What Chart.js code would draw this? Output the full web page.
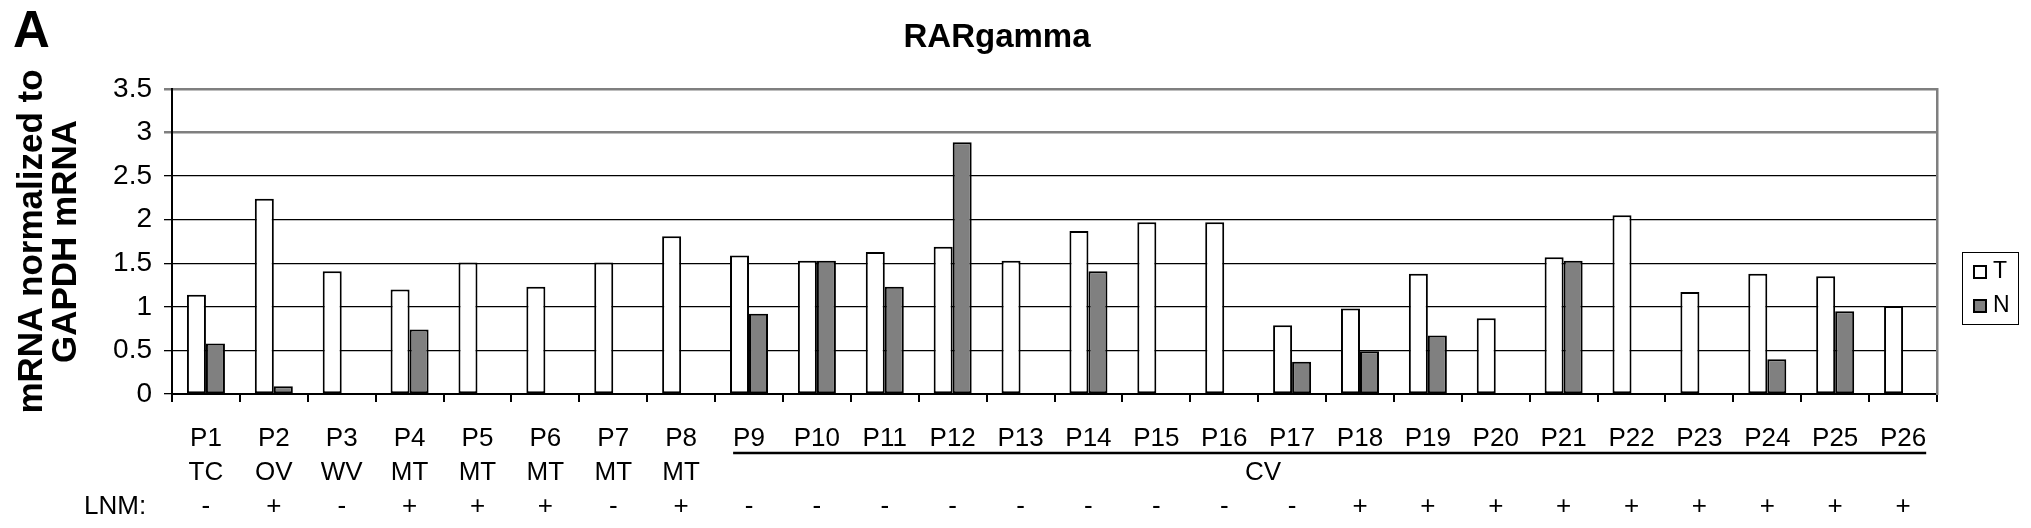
<!DOCTYPE html>
<html>
<head>
<meta charset="utf-8">
<script src="https://cdn.jsdelivr.net/npm/chart.js@4/dist/chart.umd.min.js"></script>
<style>
  body { margin: 0; background: #fff; }
  canvas { display: block; }
</style>
</head>
<body>
<canvas id="chart" width="2031" height="528"></canvas>
<script>
const panelLetter = 'A'
const chartTitle = 'RARgamma'
const yTitle = ['mRNA normalized to', 'GAPDH mRNA']

const patients = ['P1', 'P2', 'P3', 'P4', 'P5', 'P6', 'P7', 'P8', 'P9', 'P10', 'P11', 'P12', 'P13',
  'P14', 'P15', 'P16', 'P17', 'P18', 'P19', 'P20', 'P21', 'P22', 'P23', 'P24', 'P25', 'P26']
// tumour type, P9..P26 are all CV (drawn once under a line)
const tissue = ['TC', 'OV', 'WV', 'MT', 'MT', 'MT', 'MT', 'MT',
  '', '', '', '', '', '', '', '', '', '', '', '', '', '', '', '', '', '']
const groupLabel = 'CV'
const lnmLabel = 'LNM:'
const lnm = ['-', '+', '-', '+', '+', '+', '-', '+',
  '-', '-', '-', '-', '-', '-', '-', '-', '-',
  '+', '+', '+', '+', '+', '+', '+', '+', '+']

const tumorValues = [1.14, 2.24, 1.41, 1.20, 1.51, 1.23, 1.51, 1.81, 1.59, 1.53, 1.63, 1.69, 1.53,
  1.87, 1.97, 1.97, 0.79, 0.98, 1.38, 0.87, 1.57, 2.05, 1.17, 1.38, 1.35, 1.01]
const normalValues = [0.58, 0.09, null, 0.74, null, null, null, null, 0.92, 1.53, 1.23, 2.89, null,
  1.41, null, null, 0.37, 0.49, 0.67, null, 1.53, null, null, 0.40, 0.95, null]

const yMin = 0
const yMax = 3.5
const yStep = 0.5

const FONT = '"Liberation Sans", Arial, sans-serif'
Chart.defaults.font.family = FONT
Chart.defaults.color = '#000'

// extra texts: panel letter, title, LNM row, CV bracket and boxed legend
const extras = {
  id: 'extras',
  afterDraw(chart) {
    const ctx = chart.ctx
    const area = chart.chartArea
    const x = chart.scales.x
    ctx.save()
    ctx.fillStyle = '#000'

    ctx.font = 'bold 51px ' + FONT
    ctx.textBaseline = 'alphabetic'
    ctx.textAlign = 'left'
    ctx.fillText(panelLetter, 13, 47)

    ctx.font = 'bold 33px ' + FONT
    ctx.textAlign = 'center'
    ctx.fillText(chartTitle, 997, 47)

    // rows under the axis
    const row1 = area.bottom + 45
    const rowGap = 34
    ctx.font = '26px ' + FONT
    ctx.textBaseline = 'middle'
    ctx.textAlign = 'left'
    ctx.fillText(lnmLabel, 84, row1 + 2 * rowGap)

    const first = tissue.findIndex(t => t === '')
    const last = patients.length - 1
    const x0 = x.getPixelForValue(first) - ctx.measureText(patients[first]).width / 2
    const x1 = x.getPixelForValue(last) + ctx.measureText(patients[last]).width / 2
    ctx.strokeStyle = '#000'
    ctx.lineWidth = 2.5
    ctx.beginPath()
    ctx.moveTo(x0, area.bottom + 59)
    ctx.lineTo(x1, area.bottom + 59)
    ctx.stroke()
    ctx.textAlign = 'center'
    ctx.fillText(groupLabel, (x.getPixelForValue(15) + x.getPixelForValue(16)) / 2 + 5, row1 + rowGap)

    // legend
    const lx = area.right + 25
    const ly = 252
    ctx.lineWidth = 1
    ctx.strokeRect(lx + 0.5, ly + 0.5, 56, 72)
    ctx.font = '23px ' + FONT
    ctx.textAlign = 'left'
    chart.data.datasets.forEach((ds, i) => {
      const cy = ly + 20 + i * 34
      ctx.fillStyle = ds.backgroundColor
      ctx.fillRect(lx + 12, cy - 6, 12, 12)
      ctx.lineWidth = 2
      ctx.strokeRect(lx + 12, cy - 6, 12, 12)
      ctx.fillStyle = '#000'
      ctx.fillText(ds.label, lx + 31, cy)
    })
    ctx.restore()
  }
}

new Chart(document.getElementById('chart'), {
  type: 'bar',
  data: {
    labels: patients,
    datasets: [
      {
        label: 'T',
        data: tumorValues,
        backgroundColor: '#ffffff',
        borderColor: '#000',
        borderWidth: 2,
        borderSkipped: false
      },
      {
        label: 'N',
        data: normalValues,
        backgroundColor: '#808080',
        borderColor: '#000',
        borderWidth: 2,
        borderSkipped: false
      }
    ]
  },
  options: {
    responsive: false,
    animation: false,
    events: [],
    layout: { padding: { top: 89, left: 0, right: 0, bottom: 0 } },
    datasets: { bar: { barPercentage: 1, categoryPercentage: 0.56 } },
    plugins: {
      legend: { display: false },
      title: { display: false },
      tooltip: { enabled: false }
    },
    scales: {
      x: {
        type: 'category',
        offset: true,
        grid: {
          offset: true,
          drawOnChartArea: false,
          tickLength: 8,
          color: '#000',
          lineWidth: 2
        },
        border: { display: true, color: '#000', width: 2 },
        ticks: {
          autoSkip: false,
          maxRotation: 0,
          minRotation: 0,
          padding: 20,
          color: '#000',
          font: { size: 26, lineHeight: 34 / 26 },
          callback: (v, i) => [patients[i], tissue[i], lnm[i]]
        },
        afterFit(scale) { scale.height = 134 }
      },
      y: {
        position: 'left',
        min: yMin,
        max: yMax,
        grid: {
          tickLength: 8,
          color: c => (c.tick && c.tick.value >= 3 ? '#7f7f7f' : '#000'),
          lineWidth: c => (c.tick && c.tick.value >= 3 ? 2.5 : 1.3)
        },
        border: { display: true, color: '#000', width: 2 },
        ticks: {
          stepSize: yStep,
          padding: 12,
          color: '#000',
          font: { size: 28 },
          callback: v => String(v)
        },
        title: {
          display: true,
          text: yTitle,
          color: '#000',
          padding: { top: 15, bottom: 0 },
          font: { size: 35, weight: 'bold', lineHeight: 34 / 35 }
        },
        afterFit(scale) { scale.width = 172 }
      },
      yRight: {
        position: 'right',
        min: yMin,
        max: yMax,
        grid: { display: false },
        ticks: { display: false },
        border: { display: true, color: '#7f7f7f', width: 2.5 },
        afterFit(scale) { scale.width = 94 }
      }
    }
  },
  plugins: [extras]
})
</script>
</body>
</html>
